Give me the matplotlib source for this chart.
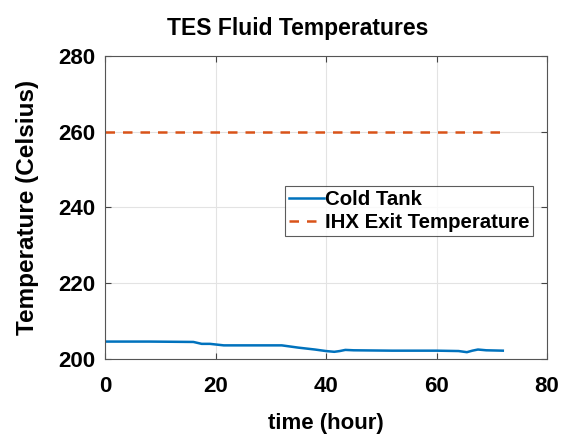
import numpy as np
import matplotlib.pyplot as plt

plt.rcParams['font.family'] = ['Liberation Sans', 'DejaVu Sans']
plt.rcParams['font.weight'] = 'bold'

# cold tank temperature over the run
hours = [0, 8, 16, 17.5, 19, 21.5, 26, 32, 35, 38, 40, 41.5, 42.5, 43.5, 45,
         52, 60, 64, 65.5, 66.5, 67.5, 69, 72]
cold_tank = [204.6, 204.6, 204.5, 204.0, 204.0, 203.6, 203.6, 203.6, 203.0,
             202.5, 202.1, 201.9, 202.1, 202.4, 202.3, 202.2, 202.2, 202.1,
             201.8, 202.2, 202.5, 202.3, 202.2]

# IHX exit set point
ihx_hours = [0, 72]
ihx_exit = [260, 260]

fig = plt.figure(figsize=(5.71, 4.36), dpi=100)
ax = fig.add_axes([105 / 571, 1 - 359 / 436, 442 / 571, 303 / 436])

ax.plot(hours, cold_tank, color='#0072BD', lw=1.8, label='Cold Tank')
ax.plot(ihx_hours, ihx_exit, color='#D95319', lw=1.8, ls=(0, (3.8, 3.2)),
        label='IHX Exit Temperature')

ax.set_xlim(0, 80)
ax.set_ylim(200, 280)
ax.set_xticks([0, 20, 40, 60, 80])
ax.set_yticks([200, 220, 240, 260, 280])
ax.grid(True, color='#e3e3e3', lw=0.8)
ax.set_axisbelow(True)
ax.tick_params(direction='in', top=True, right=True, length=4,
               labelsize=16, color='#444444')
ax.tick_params(axis='x', pad=12)
ax.tick_params(axis='y', pad=7)
for lbl in ax.get_xticklabels() + ax.get_yticklabels():
    lbl.set_fontweight('bold')
for sp in ax.spines.values():
    sp.set_color('#555555')
    sp.set_linewidth(0.8)

ax.set_title('TES Fluid Temperatures', fontsize=16.5, fontweight='bold',
             x=0.437, pad=15)
ax.set_xlabel('time (hour)', fontsize=16, fontweight='bold', labelpad=12)
ax.set_ylabel('Temperature (Celsius)', fontsize=17.5, fontweight='bold',
              labelpad=14)

leg = ax.legend(loc='lower left', bbox_to_anchor=(0.407, 0.406),
                fontsize=14.7, frameon=True, fancybox=False, handlelength=1.7,
                handletextpad=0.05, borderpad=0.2, labelspacing=0.2,
                borderaxespad=0)
leg.get_frame().set_edgecolor('#333333')
leg.get_frame().set_linewidth(0.8)
for t in leg.get_texts():
    t.set_fontweight('bold')

fig.savefig('out.png', dpi=100)
